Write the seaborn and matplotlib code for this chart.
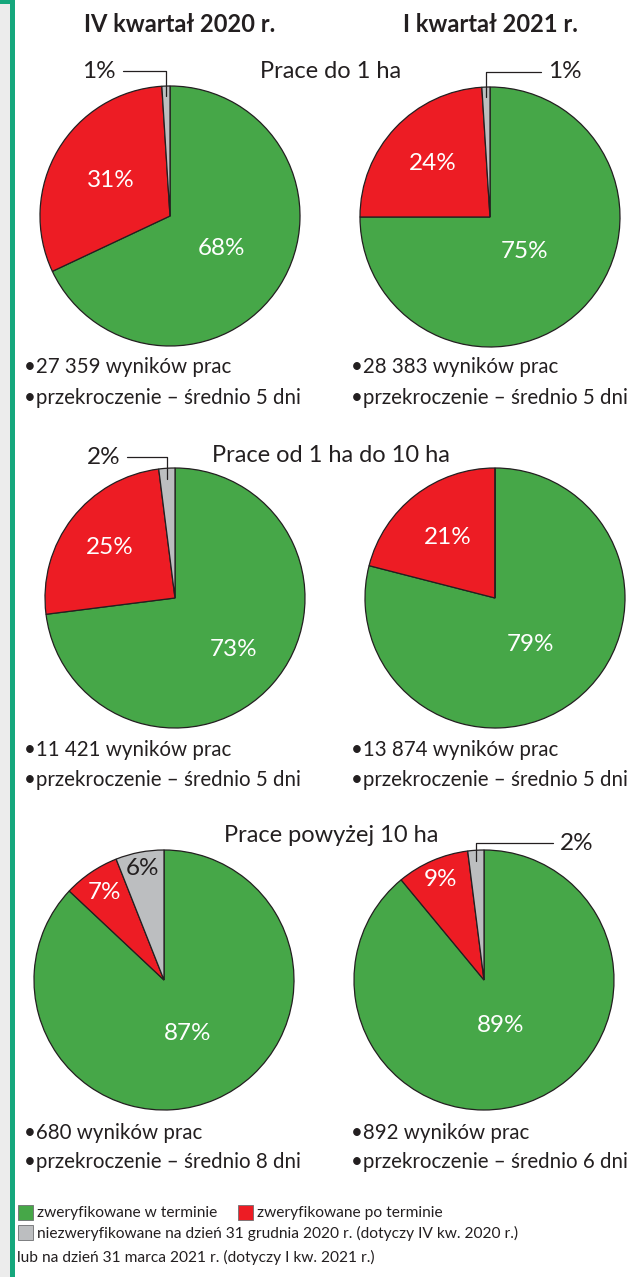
import matplotlib.pyplot as plt
import seaborn as sns
import numpy as np
from matplotlib.patches import Rectangle

sns.set_theme(style='white')
plt.rcParams['font.family'] = ['Lato', 'DejaVu Sans']

# Data
quarters = ['IV kwartał 2020 r.', 'I kwartał 2021 r.']
groups = ['Prace do 1 ha', 'Prace od 1 ha do 10 ha', 'Prace powyżej 10 ha']
legend_labels = ['zweryfikowane w terminie', 'zweryfikowane po terminie',
                 'niezweryfikowane na dzień 31 grudnia 2020 r. (dotyczy IV kw. 2020 r.)\n'
                 'lub na dzień 31 marca 2021 r. (dotyczy I kw. 2021 r.)']
shares_q4_2020 = [[68, 31, 1], [73, 25, 2], [87, 7, 6]]
shares_q1_2021 = [[75, 24, 1], [79, 21, 0], [89, 9, 2]]
results_q4_2020 = ['27 359', '11 421', '680']
results_q1_2021 = ['28 383', '13 874', '892']
delay_q4_2020 = [5, 5, 8]
delay_q1_2021 = [5, 5, 6]

colors = ['#46a748', '#ed1c24', '#bcbec0']
W, H = 639, 1277
R = 130

# layout (pixels): pie centres, label distances, leader-label positions
centres = [[(170, 216), (490, 217)],
           [(175, 598), (495, 598)],
           [(164, 980), (484, 980)]]
label_dist = [[[0.47, 0.53, None], [0.38, 0.60, None]],
              [[0.60, 0.64, None], [0.45, 0.59, None]],
              [[0.45, 0.81, 0.87], [0.37, 0.84, None]]]
leader_text = [[(116, 71, 'right'), (548, 72, 'left')],
               [(120, 457, 'right'), None],
               [None, (560, 843, 'left')]]
title_y = [72, 455, 836]
bullet_y = [(367, 398), (750, 780), (1133, 1162)]

fig = plt.figure(figsize=(W / 100, H / 100), dpi=100)


def px(x, y):
    return x / W, 1 - y / H


for row in range(3):
    for col in range(2):
        vals = (shares_q4_2020 if col == 0 else shares_q1_2021)[row]
        cx, cy = centres[row][col]
        ax = fig.add_axes([(cx - R) / W, (H - cy - R) / H, 2 * R / W, 2 * R / H])
        wedges, _ = ax.pie(vals, colors=colors, startangle=90, counterclock=False,
                           wedgeprops=dict(edgecolor='#231f20', linewidth=0.9))
        ax.set_xlim(-1, 1)
        ax.set_ylim(-1, 1)
        ax.axis('off')
        for i, (w, v) in enumerate(zip(wedges, vals)):
            if v == 0:
                continue
            mid = np.deg2rad((w.theta1 + w.theta2) / 2)
            d = label_dist[row][col][i]
            if d is not None:
                ax.text(d * np.cos(mid), d * np.sin(mid), f'{v}%', ha='center', va='center',
                        fontsize=17.5, color='#231f20' if i == 2 else 'white')
            else:
                tx, ty, ha = leader_text[row][col]
                ax.annotate(f'{v}%', xy=(0.92 * np.cos(mid), 0.92 * np.sin(mid)),
                            xytext=((tx - cx) / R, (cy - ty) / R), ha=ha, va='center',
                            fontsize=17.5, color='#231f20',
                            arrowprops=dict(arrowstyle='-', color='#231f20', lw=0.9,
                                            connectionstyle='angle,angleA=0,angleB=90,rad=0',
                                            shrinkA=3, shrinkB=0))

    fig.text(*px(331, title_y[row]), groups[row], ha='center', va='center',
             fontsize=17, color='#231f20')
    for col, x0 in enumerate([24, 351]):
        res = (results_q4_2020 if col == 0 else results_q1_2021)[row]
        dl = (delay_q4_2020 if col == 0 else delay_q1_2021)[row]
        fig.text(*px(x0, bullet_y[row][0]), f'•{res} wyników prac', ha='left', va='center',
                 fontsize=14.8, color='#231f20')
        fig.text(*px(x0, bullet_y[row][1]), f'•przekroczenie – średnio {dl} dni', ha='left',
                 va='center', fontsize=14.8, color='#231f20')

for x, q in zip([180, 490], quarters):
    fig.text(*px(x, 25), q, ha='center', va='center', fontsize=17, fontweight='bold',
             color='#231f20')

# legend
legend_pos = [(18, 1213), (238, 1213), (18, 1233)]
for (x, y), c, lab in zip(legend_pos, colors, legend_labels):
    fig.add_artist(Rectangle(px(x, y + 7), 15 / W, 15 / H, transform=fig.transFigure,
                             facecolor=c, edgecolor='#6d6e71', linewidth=0.6))
    if '\n' in lab:
        first, second = lab.split('\n')
        fig.text(*px(x + 19, y), first, ha='left', va='center', fontsize=11.2, color='#231f20')
        fig.text(*px(x - 1, y + 24), second, ha='left', va='center', fontsize=11.2,
                 color='#231f20')
    else:
        fig.text(*px(x + 19, y), lab, ha='left', va='center', fontsize=11.2, color='#231f20')

# left frame decoration
fig.add_artist(Rectangle((0, 0), 10 / W, 1, transform=fig.transFigure,
                         facecolor='#ececec', edgecolor='none'))
fig.add_artist(Rectangle((10 / W, 0), 5 / W, 1, transform=fig.transFigure,
                         facecolor='#15a77c', edgecolor='none'))
fig.add_artist(Rectangle((0, 1 - 4 / H), 10 / W, 4 / H, transform=fig.transFigure,
                         facecolor='#15a77c', edgecolor='none'))

fig.savefig('out.png', dpi=100)
